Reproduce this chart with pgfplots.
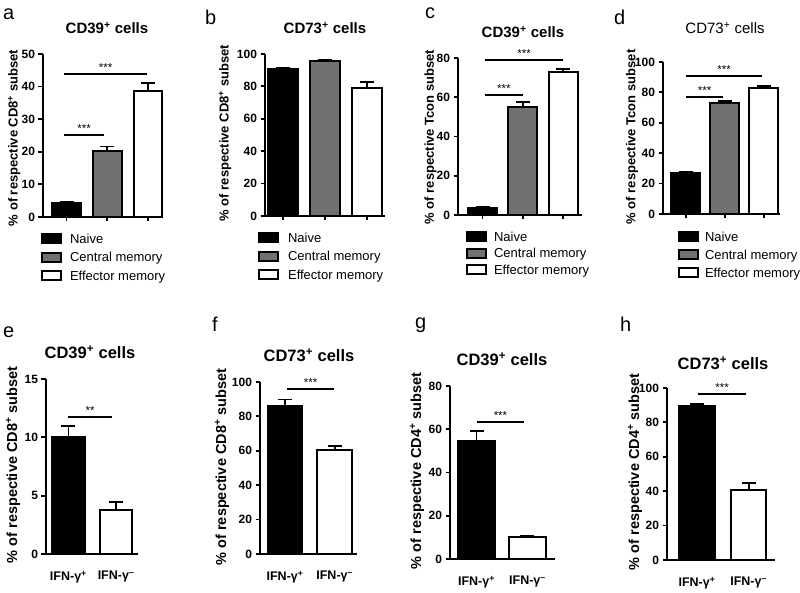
\documentclass[border=0pt]{standalone}
\usepackage{pgfplots}
\pgfplotsset{compat=1.18}
\usepackage{fontspec}
\setmainfont{Liberation Sans}
\definecolor{barg}{HTML}{717171}
\tikzset{star/.style={above, inner sep=1.8pt, font=\fontsize{11.5}{12}\selectfont},
  sig/.style={line width=2pt}}
\pgfplotsset{
 every axis title/.style={at={(0.5,1)}, anchor=center},
 panel/.style={
  scale only axis, anchor=south west, clip=false,
  axis x line=bottom, axis y line=left,
  axis line style={line width=2.2pt,-},
  tick style={line width=1.8pt,black},
  major tick length=4.5pt, tick align=outside,
  ymin=0, enlargelimits=false,
  /pgf/number format/assume math mode=true,
  tick label style={font=\bfseries\fontsize{12}{14}\selectfont},
  title style={anchor=center, font=\bfseries\fontsize{15}{17}\selectfont},
  ylabel style={anchor=center, font=\bfseries\fontsize{13}{15}\selectfont},
 },
 bottompanel/.style={
  title style={font=\bfseries\fontsize{16.5}{18}\selectfont},
  ylabel style={font=\bfseries\fontsize{14.5}{16}\selectfont},
  xtick style={draw=none},
  xticklabel style={font=\bfseries\fontsize{12.5}{14}\selectfont, yshift=-9pt},
  xtick={0,1}, xticklabels={IFN-γ\textsuperscript{+}, IFN-γ\textsuperscript{–}},
 },
 legtop/.style={
  legend image code/.code={\draw[##1,line width=1.8pt] (0pt,-3.2pt) rectangle (19pt,5.8pt);},
  legend style={draw=none, fill=none, inner sep=0pt, outer sep=0pt, anchor=north west,
    font=\fontsize{13}{15}\selectfont, cells={anchor=west},
    nodes={inner sep=1pt, text height=9.5pt, text depth=2.8pt}},
 },
 bbar/.style={ybar, bar shift=0pt, draw=black, line width=2pt,
   error bars/.cd, y dir=plus, y explicit,
   error bar style={line width=1.8pt, black},
   error mark options={rotate=90, line width=1.8pt, black, mark size=7pt}},
}
\begin{document}
\begin{tikzpicture}
\useasboundingbox (0,0) rectangle (800pt,593pt);
% ---------- a ----------
\begin{axis}[panel, legtop, at={(43pt,376pt)}, width=120pt, height=163pt,
 xmin=-0.58, xmax=2.37, ymax=50, ytick={0,10,20,30,40,50}, xtick={0,1,2}, xticklabels={},
 title={CD39\textsuperscript{+} cells}, title style={at={(axis description cs:0.533,1.160)}},
 ylabel={\% of respective CD8\textsuperscript{+} subset}, ylabel style={at={(axis description cs:-0.24,0.485)}},
 legend style={at={(axis description cs:-0.0146,-0.0972)}, row sep=4.2pt, /tikz/every odd column/.append style={column sep=7pt}}]
\addplot[fill=black, bar width=0.70, bbar] coordinates {(0,4.2) +- (0,0.5)};
\addlegendentry{Naive}
\addplot[fill=barg, bar width=0.70, bbar] coordinates {(1,20.3) +- (0,1.3)};
\addlegendentry{Central memory}
\addplot[fill=white, bar width=0.70, bbar] coordinates {(2,38.7) +- (0,2.5)};
\addlegendentry{Effector memory}
\draw[sig] (axis cs:-0.06,25.2) -- node[star] {***} (axis cs:0.92,25.2);
\draw[sig] (axis cs:-0.06,43.9) -- node[star] {***} (axis cs:1.98,43.9);
\end{axis}
% ---------- b ----------
\begin{axis}[panel, legtop, at={(265pt,377pt)}, width=120pt, height=162pt,
 xmin=-0.43, xmax=2.43, ymax=100, ytick={0,20,40,60,80,100}, xtick={0,1,2}, xticklabels={},
 title={CD73\textsuperscript{+} cells}, title style={at={(axis description cs:0.5,1.160)}},
 ylabel={\% of respective CD8\textsuperscript{+} subset}, ylabel style={at={(axis description cs:-0.333,0.512)}},
 legend style={at={(axis description cs:-0.056,-0.0978)}, row sep=4.2pt, /tikz/every odd column/.append style={column sep=8pt}}]
\addplot[fill=black, bar width=0.71, bbar] coordinates {(0,90.5) +- (0,1.0)};
\addlegendentry{Naive}
\addplot[fill=barg, bar width=0.71, bbar] coordinates {(1,95.7) +- (0,0.6)};
\addlegendentry{Central memory}
\addplot[fill=white, bar width=0.71, bbar] coordinates {(2,78.8) +- (0,4.0)};
\addlegendentry{Effector memory}
\end{axis}
% ---------- c ----------
\begin{axis}[panel, legtop, at={(458pt,378pt)}, width=124pt, height=157pt,
 xmin=-0.61, xmax=2.47, ymax=80, ytick={0,20,40,60,80}, xtick={0,1,2}, xticklabels={},
 title={CD39\textsuperscript{+} cells}, title style={at={(axis description cs:0.524,1.166)}},
 ylabel={\% of respective Tcon subset}, ylabel style={at={(axis description cs:-0.222,0.497)}},
 legend style={at={(axis description cs:0.0665,-0.101)}, row sep=2.2pt, /tikz/every odd column/.append style={column sep=6pt}}]
\addplot[fill=black, bar width=0.72, bbar] coordinates {(0,3.4) +- (0,0.5)};
\addlegendentry{Naive}
\addplot[fill=barg, bar width=0.72, bbar] coordinates {(1,54.9) +- (0,2.8)};
\addlegendentry{Central memory}
\addplot[fill=white, bar width=0.72, bbar] coordinates {(2,73.0) +- (0,1.2)};
\addlegendentry{Effector memory}
\draw[sig] (axis cs:0.06,61.1) -- node[star] {***} (axis cs:1.0,61.1);
\draw[sig] (axis cs:0.06,79.0) -- node[star] {***} (axis cs:2.0,79.0);
\end{axis}
% ---------- d ----------
\begin{axis}[panel, legtop, at={(663pt,379pt)}, width=117pt, height=152pt,
 xmin=-0.58, xmax=2.42, ymax=100, ytick={0,20,40,60,80,100}, xtick={0,1,2}, xticklabels={},
 title={CD73\textsuperscript{+} cells}, title style={at={(axis description cs:0.530,1.224)}, font=\fontsize{15}{17}\selectfont},
 ylabel={\% of respective Tcon subset}, ylabel style={at={(axis description cs:-0.265,0.507)}},
 legend style={at={(axis description cs:0.130,-0.111)}, row sep=3.7pt, /tikz/every odd column/.append style={column sep=5pt}}]
\addplot[fill=black, bar width=0.73, bbar] coordinates {(0,26.9) +- (0,0.8)};
\addlegendentry{Naive}
\addplot[fill=barg, bar width=0.73, bbar] coordinates {(1,72.7) +- (0,1.5)};
\addlegendentry{Central memory}
\addplot[fill=white, bar width=0.73, bbar] coordinates {(2,82.8) +- (0,1.3)};
\addlegendentry{Effector memory}
\draw[sig] (axis cs:0.01,77.0) -- node[star] {***} (axis cs:0.96,77.0);
\draw[sig] (axis cs:0.01,90.8) -- node[star] {***} (axis cs:1.96,90.8);
\end{axis}
% ---------- e ----------
\begin{axis}[panel, bottompanel, at={(46pt,39pt)}, width=92pt, height=175pt,
 xmin=-0.47, xmax=1.46, ymax=15, ytick={0,5,10,15},
 title={CD39\textsuperscript{+} cells}, title style={at={(axis description cs:0.478,1.154)}},
 ylabel={\% of respective CD8\textsuperscript{+} subset}, ylabel style={at={(axis description cs:-0.359,0.509)}}]
\addplot[fill=black, bar width=0.68, bbar] coordinates {(0,10.0) +- (0,0.97)};
\addplot[fill=white, bar width=0.68, bbar] coordinates {(1,3.77) +- (0,0.72)};
\draw[sig] (axis cs:-0.01,11.74) -- node[star] {**} (axis cs:0.92,11.74);
\end{axis}
% ---------- f ----------
\begin{axis}[panel, bottompanel, at={(260pt,39pt)}, width=97pt, height=172pt,
 xmin=-0.505, xmax=1.45, ymax=100, ytick={0,20,40,60,80,100},
 title={CD73\textsuperscript{+} cells}, title style={at={(axis description cs:0.505,1.157)}},
 ylabel={\% of respective CD8\textsuperscript{+} subset}, ylabel style={at={(axis description cs:-0.392,0.506)}}]
\addplot[fill=black, bar width=0.70, bbar] coordinates {(0,86.1) +- (0,3.7)};
\addplot[fill=white, bar width=0.70, bbar] coordinates {(1,60.4) +- (0,2.3)};
\draw[sig] (axis cs:0.04,95.9) -- node[star] {***} (axis cs:0.99,95.9);
\end{axis}
% ---------- g ----------
\begin{axis}[panel, bottompanel, at={(450pt,34pt)}, width=105pt, height=173pt,
 xmin=-0.52, xmax=1.54, ymax=80, ytick={0,20,40,60,80},
 title={CD39\textsuperscript{+} cells}, title style={at={(axis description cs:0.495,1.156)}},
 ylabel={\% of respective CD4\textsuperscript{+} subset}, ylabel style={at={(axis description cs:-0.314,0.509)}}]
\addplot[fill=black, bar width=0.73, bbar] coordinates {(0,54.5) +- (0,4.6)};
\addplot[fill=white, bar width=0.73, bbar] coordinates {(1,10.0) +- (0,0.9)};
\draw[sig] (axis cs:0.01,63.4) -- node[star] {***} (axis cs:0.93,63.4);
\end{axis}
% ---------- h ----------
\begin{axis}[panel, bottompanel, at={(667pt,33pt)}, width=108pt, height=172pt,
 xmin=-0.58, xmax=1.51, ymax=100, ytick={0,20,40,60,80,100},
 title={CD73\textsuperscript{+} cells}, title style={at={(axis description cs:0.519,1.145)}},
 ylabel={\% of respective CD4\textsuperscript{+} subset}, ylabel style={at={(axis description cs:-0.296,0.512)}}]
\addplot[fill=black, bar width=0.69, bbar] coordinates {(0,89.3) +- (0,1.6)};
\addplot[fill=white, bar width=0.69, bbar] coordinates {(1,40.8) +- (0,3.9)};
\draw[sig] (axis cs:0.02,96.5) -- node[star] {***} (axis cs:0.95,96.5);
\end{axis}
% ---------- panel letters ----------
\begin{scope}[every node/.style={anchor=base west, inner sep=0pt, font=\fontsize{20}{22}\selectfont}]
\node at (3pt,573pt) {a};
\node at (205pt,568pt) {b};
\node at (425pt,574pt) {c};
\node at (614pt,568pt) {d};
\node at (3pt,255pt) {e};
\node at (212pt,261pt) {f};
\node at (415pt,264pt) {g};
\node at (620pt,261pt) {h};
\end{scope}
\end{tikzpicture}
\end{document}
